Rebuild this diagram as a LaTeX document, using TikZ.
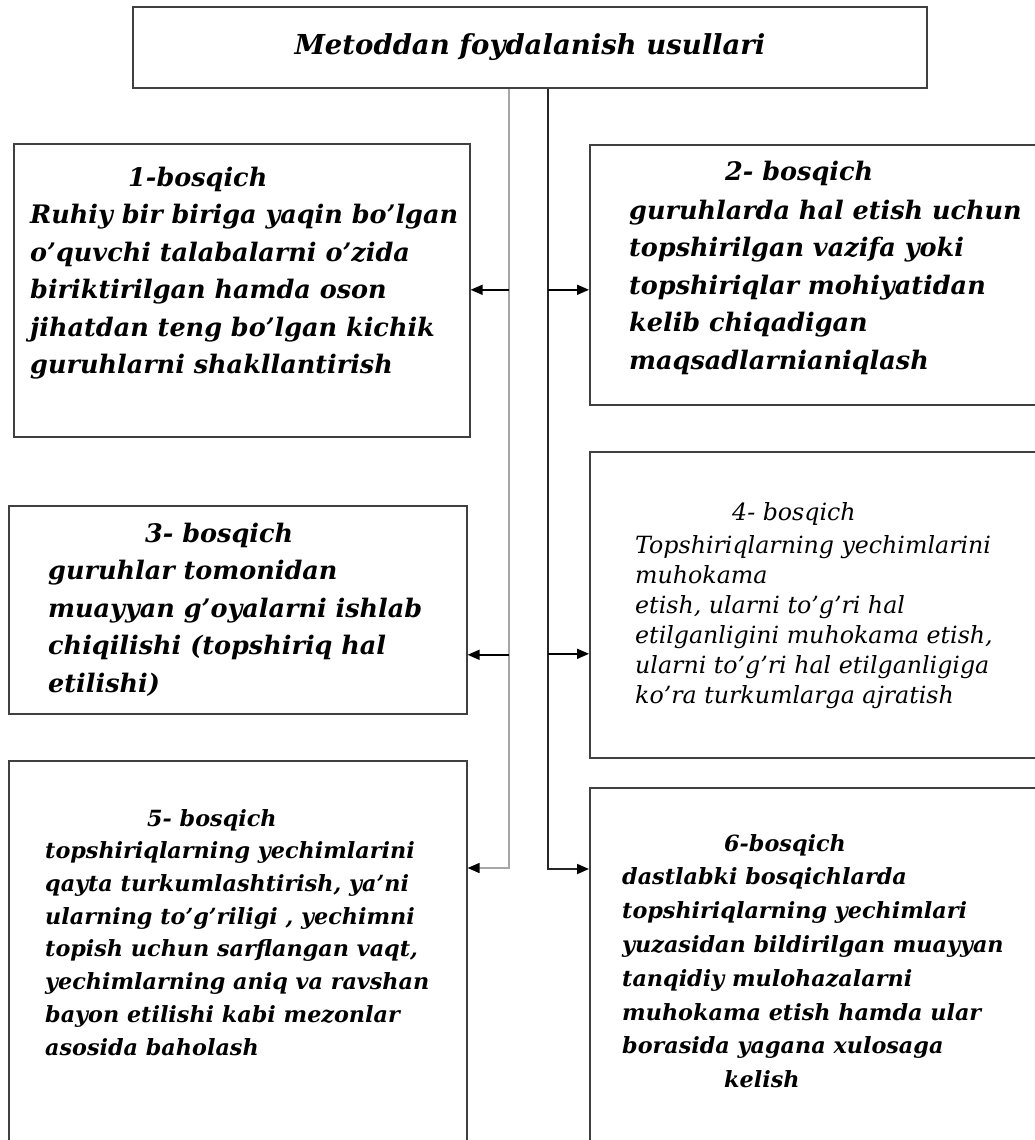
\documentclass[tikz,border=0pt]{standalone}
\usepackage{fontspec}
\setmainfont{DejaVu Serif}
\usetikzlibrary{arrows.meta}

\begin{document}
\begin{tikzpicture}[x=1pt, y=-1pt,
        box/.style={draw=black!75, line width=1.6pt, anchor=north west, inner sep=0pt},
        txt/.style={anchor=north west, align=left, inner sep=0pt, text=black},
        big/.style={font=\fontsize{25.5}{37.5}\selectfont\bfseries\itshape},
        small/.style={font=\fontsize{22.3}{#1}\selectfont\bfseries\itshape},
        arr/.style={line width=1.8pt, -{Triangle[length=12pt, width=10pt]}}]
    \useasboundingbox (0,0) rectangle (1035,1140);
    \clip (0,0) rectangle (1035,1140);
    \fill[white] (0,0) rectangle (1035,1140);
    % title
    \node[draw=black!75, line width=1.6pt, minimum width=794pt, minimum height=81pt,
        font=\fontsize{27.5}{33}\selectfont\bfseries\itshape] (top) at (530,47.5)
        {Metoddan foydalanish usullari};
    % the six boxes
    \node[box, minimum width=456pt, minimum height=293pt] (b1) at (13,143) {};
    \node[box, minimum width=480pt, minimum height=260pt] (b2) at (589,144) {};
    \node[box, minimum width=458pt, minimum height=208pt] (b3) at (8,505) {};
    \node[box, minimum width=480pt, minimum height=306pt] (b4) at (589,451) {};
    \node[box, minimum width=458pt, minimum height=420pt] (b5) at (8,760) {};
    \node[box, minimum width=480pt, minimum height=400pt] (b6) at (589,787) {};
    % texts
    \node[txt, big] (t1) at (30,166.6) {\hspace*{98pt}1-bosqich\\
        Ruhiy bir biriga yaqin bo'lgan\\o'quvchi talabalarni o'zida\\
        biriktirilgan hamda oson\\jihatdan teng bo'lgan kichik\\
        guruhlarni shakllantirish};
    \node[txt, big] (t2) at (629,160.6) {\hspace*{96pt}2- bosqich\\[1.5pt]
        guruhlarda hal etish uchun\\topshirilgan vazifa yoki\\
        topshiriqlar mohiyatidan\\kelib chiqadigan\\maqsadlarnianiqlash};
    \node[txt, big] (t3) at (48,522.6) {\hspace*{97pt}3- bosqich\\
        guruhlar tomonidan\\muayyan g'oyalarni ishlab\\
        chiqilishi (topshiriq hal\\etilishi)};
    \node[txt, font=\fontsize{23.7}{30}\selectfont\itshape] (t4) at (635,502)
        {\hspace*{97pt}4- bosqich\\[3pt]
        Topshiriqlarning yechimlarini\\muhokama\\etish, ularni to'g'ri hal\\
        etilganligini muhokama etish,\\ularni to'g'ri hal etilganligiga\\
        ko'ra turkumlarga ajratish};
    \node[txt, small=32.7] (t5) at (45,809) {\hspace*{102pt}5- bosqich\\
        topshiriqlarning yechimlarini\\qayta turkumlashtirish, ya'ni\\
        ularning to'g'riligi , yechimni\\topish uchun sarflangan vaqt,\\
        yechimlarning aniq va ravshan\\bayon etilishi kabi mezonlar\\
        asosida baholash};
    \node[txt, small=33.8] (t6) at (622,834) {\hspace*{102pt}6-bosqich\\
        dastlabki bosqichlarda\\topshiriqlarning yechimlari\\
        yuzasidan bildirilgan muayyan\\tanqidiy mulohazalarni\\
        muhokama etish hamda ular\\borasida yagana xulosaga\\
        \hspace*{102pt}kelish};
    % connectors
    \coordinate (lt) at ([xshift=-21pt]top.south);
    \coordinate (rt) at ([xshift=18pt]top.south);
    \coordinate (a1) at ([yshift=0.5pt]b1.east);
    \coordinate (a2) at ([yshift=-15pt]b2.west);
    \coordinate (a3) at ([yshift=-45pt]b3.east);
    \coordinate (a4) at ([yshift=-49pt]b4.west);
    \draw[black!35, line width=1.6pt, -{Triangle[length=12pt, width=10pt, black]}]
        (lt) |- ([yshift=-108pt]b5.north east);
    \draw[black!85, line width=1.8pt, -{Triangle[length=12pt, width=10pt, black]}]
        (rt) |- ([yshift=-82pt]b6.north west);
    \draw[arr] (a1 -| lt) -- (a1);
    \draw[arr] (a3 -| lt) -- (a3);
    \draw[arr] (a2 -| rt) -- (a2);
    \draw[arr] (a4 -| rt) -- (a4);
\end{tikzpicture}
\end{document}
